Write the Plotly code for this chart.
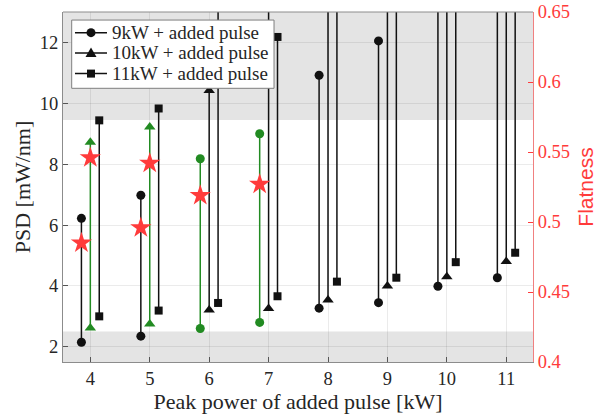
import plotly.graph_objects as go

# Peak power of the added pulse [kW]
powers = [4, 5, 6, 7, 8, 9, 10, 11]

# PSD range [mW/nm] for each base power: low and high end of each bar
psd_9kw_low = [2.15, 2.35, 2.6, 2.8, 3.27, 3.45, 3.99, 4.27]
psd_9kw_high = [6.22, 6.98, 8.18, 9.0, 10.92, 12.05, 14.0, 14.0]
psd_10kw_low = [2.62, 2.75, 3.21, 3.26, 3.54, 4.0, 4.3, 4.8]
psd_10kw_high = [8.72, 9.22, 10.42, 14.0, 14.0, 14.0, 14.0, 14.0]
psd_11kw_low = [3.0, 3.19, 3.44, 3.66, 4.14, 4.27, 4.78, 5.09]
psd_11kw_high = [9.44, 9.83, 14.0, 12.18, 14.0, 14.0, 14.0, 14.0]

# Configurations falling inside the accepted PSD window (drawn green)
green_9kw = [6, 7]
green_10kw = [4, 5]

# Spectral flatness of selected configurations
flat_9kw_powers = [4, 5, 6, 7]
flat_9kw = [0.485, 0.496, 0.519, 0.527]
flat_10kw_powers = [4, 5]
flat_10kw = [0.546, 0.542]

# Accepted PSD window edges
psd_window = [2.5, 9.45]

y_range = [1.5, 13]
flat_range = [0.4, 0.65]
flat_ticks = [0.4, 0.45, 0.5, 0.55, 0.6, 0.65]

legend_labels = ["9kW + added pulse", "10kW + added pulse", "11kW + added pulse"]

BLACK = "#111111"
GREEN = "#228B22"
RED = "#FF3B3B"
TEXT = "#262626"
SERIF = "Liberation Serif, serif"

series = [
    (-0.15, psd_9kw_low, psd_9kw_high, "circle", 9, green_9kw),
    (0.0, psd_10kw_low, psd_10kw_high, "triangle-up", 10, green_10kw),
    (0.15, psd_11kw_low, psd_11kw_high, "square", 8, []),
]

fig = go.Figure()


def segments(idx, offset, lows, highs):
    xs, ys = [], []
    for i in idx:
        xp = powers[i] + offset
        xs += [xp, xp, None]
        ys += [lows[i], highs[i], None]
    return xs, ys


for off, lows, highs, sym, msize, greens in series:
    for color, pick in ((BLACK, False), (GREEN, True)):
        idx = [i for i, p in enumerate(powers) if (p in greens) == pick]
        if not idx:
            continue
        xs, ys = segments(idx, off, lows, highs)
        fig.add_trace(go.Scatter(
            x=xs, y=ys, mode="lines+markers", showlegend=False,
            line=dict(color=color, width=1.5),
            marker=dict(symbol=sym, size=msize, color=color),
        ))

# Flatness on the right-hand axis
star = dict(symbol="star", size=16, color=RED, line=dict(width=0))
fig.add_trace(go.Scatter(
    x=[p - 0.15 for p in flat_9kw_powers], y=flat_9kw, yaxis="y2",
    mode="markers", showlegend=False, marker=star,
))
fig.add_trace(go.Scatter(
    x=flat_10kw_powers, y=flat_10kw, yaxis="y2",
    mode="markers", showlegend=False, marker=star,
))

shapes = []
# Shaded regions outside the accepted PSD window
for y0, y1 in [(y_range[0], psd_window[0]), (psd_window[1], y_range[1])]:
    shapes.append(dict(type="rect", xref="paper", yref="y", x0=0, x1=1, y0=y0, y1=y1,
                       fillcolor="#E4E4E4", line=dict(width=0), layer="below"))
# Top frame line
shapes.append(dict(type="line", xref="paper", yref="paper", x0=0, x1=1, y0=1, y1=1,
                   line=dict(color="#8C8C8C", width=1)))

# Legend box drawn on top of the data
shapes.append(dict(type="rect", xref="paper", yref="paper",
                   x0=0.0185, x1=0.449, y0=0.782, y1=0.977,
                   fillcolor="white", line=dict(color="#7F7F7F", width=1)))

legend_rows = [0.941, 0.883, 0.824]
line_x0, line_x1, mark_x, text_x = 0.0255, 0.0936, 0.0596, 0.1
glyphs = [
    dict(type="circle", x0=-4.5, x1=4.5, y0=-4.5, y1=4.5),
    dict(type="path", path="M-5.5,-4 L5.5,-4 L0,5.5 Z"),
    dict(type="rect", x0=-4, x1=4, y0=-4, y1=4),
]
annotations = []
for row_y, glyph, label in zip(legend_rows, glyphs, legend_labels):
    shapes.append(dict(type="line", xref="paper", yref="paper",
                       x0=line_x0, x1=line_x1, y0=row_y, y1=row_y,
                       line=dict(color=BLACK, width=1.5)))
    g = dict(glyph)
    g.update(xref="paper", yref="paper", xsizemode="pixel", ysizemode="pixel",
             xanchor=mark_x, yanchor=row_y, fillcolor=BLACK, line=dict(width=0))
    shapes.append(g)
    annotations.append(dict(xref="paper", yref="paper", x=text_x, y=row_y,
                            xanchor="left", yanchor="middle", showarrow=False,
                            text=label, font=dict(family=SERIF, size=19, color=TEXT)))

fig.update_layout(
    width=597, height=417,
    margin=dict(l=63, r=64, t=12, b=55),
    paper_bgcolor="white", plot_bgcolor="white",
    font=dict(family=SERIF, size=18.5, color=TEXT),
    showlegend=False,
    shapes=shapes,
    annotations=annotations,
    xaxis=dict(
        range=[3.54, 11.45], tickvals=powers, ticks="inside", ticklen=5,
        tickcolor="#555555", showline=True, linecolor="#8C8C8C",
        showgrid=True, gridcolor="rgba(0,0,0,0.08)", zeroline=False,
        automargin=False,
        title=dict(text="Peak power of added pulse [kW]", standoff=4,
                   font=dict(family=SERIF, size=22)),
        tickfont=dict(family=SERIF, size=18.5),
    ),
    yaxis=dict(
        range=y_range, tickvals=[2, 4, 6, 8, 10, 12], ticks="inside", ticklen=5,
        tickcolor="#555555", showline=True, linecolor="#8C8C8C",
        showgrid=True, gridcolor="rgba(0,0,0,0.08)", zeroline=False,
        automargin=False,
        title=dict(text="PSD [mW/nm]", standoff=3,
                   font=dict(family=SERIF, size=22)),
        tickfont=dict(family=SERIF, size=18.5),
    ),
    yaxis2=dict(
        overlaying="y", side="right", range=flat_range,
        tickvals=flat_ticks, ticktext=[f"{v:g}" for v in flat_ticks],
        ticks="inside", ticklen=5, tickcolor=RED,
        showline=True, linecolor="#F08080", showgrid=False, zeroline=False,
        automargin=False,
        tickfont=dict(family=SERIF, size=18.5, color=RED),
        title=dict(text="Flatness", standoff=12,
                   font=dict(family="Liberation Sans, Arial, sans-serif", size=21, color=RED)),
    ),
)

fig.write_html("out.html")
